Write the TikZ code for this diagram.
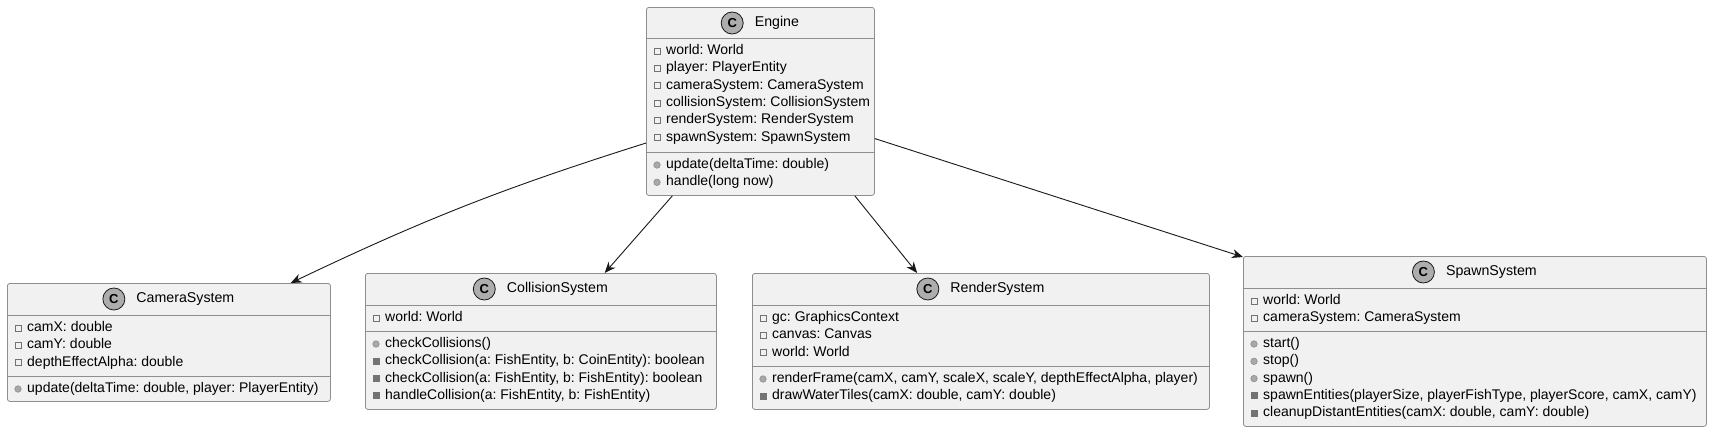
\documentclass[tikz,border=0pt]{standalone}
\usepackage{fontspec}
\setmainfont{Liberation Sans}
\usetikzlibrary{arrows.meta,positioning}
\frenchspacing
\definecolor{boxfill}{HTML}{F1F1F1}
\definecolor{boxline}{HTML}{8E8E8E}
\definecolor{iconfill}{HTML}{ADADAD}
\definecolor{dotfill}{HTML}{A8A8A8}
\definecolor{privfill}{HTML}{737373}
\definecolor{arrowline}{HTML}{181818}
\tikzset{
  classbox/.style={draw=boxline, fill=boxfill, rounded corners=2.5pt, line width=0.8pt,
                   anchor=north west, inner sep=0pt},
  sepline/.style={draw=boxline, line width=0.8pt},
  classicon/.style={circle, draw=arrowline, fill=iconfill, line width=0.8pt, minimum size=22pt,
                    inner sep=0pt, font=\fontsize{13}{13}\selectfont\bfseries},
  classtitle/.style={inner sep=0pt, font=\fontsize{14.2}{16}\selectfont},
  member/.style={anchor=west, inner sep=0pt, font=\fontsize{14}{16}\selectfont,
                 text height=10pt, text depth=3pt},
  privfield/.style={rectangle, draw=boxline!80!black, line width=0.7pt, minimum size=6pt, inner sep=0pt},
  pubmethod/.style={circle, draw=boxline, fill=dotfill, line width=0.6pt, minimum size=6.5pt, inner sep=0pt},
  privmethod/.style={rectangle, fill=privfill, minimum size=7pt, inner sep=0pt},
  assoc/.style={draw=arrowline, line width=0.9pt, -{Stealth[length=11pt,width=9pt,inset=3.5pt]}}
}
\begin{document}
\begin{tikzpicture}[x=1pt,y=-1pt]
\useasboundingbox (0,0) rectangle (1713,434);

% boxes
\node[classbox, minimum width=228pt, minimum height=188pt] (engine) at (646,7) {};
\node[classbox, minimum width=323pt, minimum height=118pt] (camera) at (7,283) {};
\node[classbox, minimum width=351pt, minimum height=136pt] (collision) at (365,273) {};
\node[classbox, minimum width=457pt, minimum height=136pt] (render) at (752,273) {};
\node[classbox, minimum width=463pt, minimum height=170pt] (spawn) at (1243,256) {};

% compartments
\draw[sepline] ([yshift=-31pt]engine.north west) -- ([yshift=-31pt]engine.north east)
               ([yshift=-145pt]engine.north west) -- ([yshift=-145pt]engine.north east);
\draw[sepline] ([yshift=-32pt]camera.north west) -- ([yshift=-32pt]camera.north east)
               ([yshift=-93pt]camera.north west) -- ([yshift=-93pt]camera.north east);
\draw[sepline] ([yshift=-32pt]collision.north west) -- ([yshift=-32pt]collision.north east)
               ([yshift=-58pt]collision.north west) -- ([yshift=-58pt]collision.north east);
\draw[sepline] ([yshift=-32pt]render.north west) -- ([yshift=-32pt]render.north east)
               ([yshift=-93pt]render.north west) -- ([yshift=-93pt]render.north east);
\draw[sepline] ([yshift=-32pt]spawn.north west) -- ([yshift=-32pt]spawn.north east)
               ([yshift=-75pt]spawn.north west) -- ([yshift=-75pt]spawn.north east);

% titles
\node[classtitle] (engine-title) at ([xshift=16.5pt,yshift=-16pt]engine.north) {Engine};
\node[classicon, left=11pt of engine-title] (engine-icon) {C};
\node[classtitle] (camera-title) at ([xshift=16.5pt,yshift=-16pt]camera.north) {CameraSystem};
\node[classicon, left=11pt of camera-title] (camera-icon) {C};
\node[classtitle] (collision-title) at ([xshift=16.5pt,yshift=-16pt]collision.north) {CollisionSystem};
\node[classicon, left=11pt of collision-title] (collision-icon) {C};
\node[classtitle] (render-title) at ([xshift=16.5pt,yshift=-16pt]render.north) {RenderSystem};
\node[classicon, left=11pt of render-title] (render-icon) {C};
\node[classtitle] (spawn-title) at ([xshift=16.5pt,yshift=-16pt]spawn.north) {SpawnSystem};
\node[classicon, left=11pt of spawn-title] (spawn-icon) {C};

% Engine members
\foreach \t [count=\i from 0] in {world: World, player: PlayerEntity, cameraSystem: CameraSystem,
    collisionSystem: CollisionSystem, renderSystem: RenderSystem, spawnSystem: SpawnSystem}{
  \node[privfield] (engine-fi\i) at ([xshift=11pt,yshift={-(44+17.3*\i)}]engine.north west) {};
  \node[member] (engine-f\i) at ([xshift=20pt,yshift={-(44+17.3*\i)}]engine.north west) {\t};
}
\foreach \v/\t [count=\i from 0] in {pubmethod/{update(deltaTime: double)}, pubmethod/{handle(long now)}}{
  \node[\v] (engine-mi\i) at ([xshift=11pt,yshift={-(158+17.3*\i)}]engine.north west) {};
  \node[member] (engine-m\i) at ([xshift=20pt,yshift={-(158+17.3*\i)}]engine.north west) {\t};
}

% CameraSystem members
\foreach \t [count=\i from 0] in {camX: double, camY: double, depthEffectAlpha: double}{
  \node[privfield] (camera-fi\i) at ([xshift=11pt,yshift={-(45+17.3*\i)}]camera.north west) {};
  \node[member] (camera-f\i) at ([xshift=20pt,yshift={-(45+17.3*\i)}]camera.north west) {\t};
}
\foreach \v/\t [count=\i from 0] in {pubmethod/{update(deltaTime: double, player: PlayerEntity)}}{
  \node[\v] (camera-mi\i) at ([xshift=11pt,yshift={-(106+17.3*\i)}]camera.north west) {};
  \node[member] (camera-m\i) at ([xshift=20pt,yshift={-(106+17.3*\i)}]camera.north west) {\t};
}

% CollisionSystem members
\foreach \t [count=\i from 0] in {world: World}{
  \node[privfield] (collision-fi\i) at ([xshift=11pt,yshift={-(45+17.3*\i)}]collision.north west) {};
  \node[member] (collision-f\i) at ([xshift=20pt,yshift={-(45+17.3*\i)}]collision.north west) {\t};
}
\foreach \v/\t [count=\i from 0] in {pubmethod/{checkCollisions()},
    privmethod/{checkCollision(a: FishEntity, b: CoinEntity): boolean},
    privmethod/{checkCollision(a: FishEntity, b: FishEntity): boolean},
    privmethod/{handleCollision(a: FishEntity, b: FishEntity)}}{
  \node[\v] (collision-mi\i) at ([xshift=11pt,yshift={-(71+17.3*\i)}]collision.north west) {};
  \node[member] (collision-m\i) at ([xshift=20pt,yshift={-(71+17.3*\i)}]collision.north west) {\t};
}

% RenderSystem members
\foreach \t [count=\i from 0] in {gc: GraphicsContext, canvas: Canvas, world: World}{
  \node[privfield] (render-fi\i) at ([xshift=11pt,yshift={-(45+17.3*\i)}]render.north west) {};
  \node[member] (render-f\i) at ([xshift=20pt,yshift={-(45+17.3*\i)}]render.north west) {\t};
}
\foreach \v/\t [count=\i from 0] in {pubmethod/{renderFrame(camX, camY, scaleX, scaleY, depthEffectAlpha, player)},
    privmethod/{drawWaterTiles(camX: double, camY: double)}}{
  \node[\v] (render-mi\i) at ([xshift=11pt,yshift={-(106+17.3*\i)}]render.north west) {};
  \node[member] (render-m\i) at ([xshift=20pt,yshift={-(106+17.3*\i)}]render.north west) {\t};
}

% SpawnSystem members
\foreach \t [count=\i from 0] in {world: World, cameraSystem: CameraSystem}{
  \node[privfield] (spawn-fi\i) at ([xshift=11pt,yshift={-(45+17.3*\i)}]spawn.north west) {};
  \node[member] (spawn-f\i) at ([xshift=20pt,yshift={-(45+17.3*\i)}]spawn.north west) {\t};
}
\foreach \v/\t [count=\i from 0] in {pubmethod/{start()}, pubmethod/{stop()}, pubmethod/{spawn()},
    privmethod/{spawnEntities(playerSize, playerFishType, playerScore, camX, camY)},
    privmethod/{cleanupDistantEntities(camX: double, camY: double)}}{
  \node[\v] (spawn-mi\i) at ([xshift=11pt,yshift={-(88+17.3*\i)}]spawn.north west) {};
  \node[member] (spawn-m\i) at ([xshift=20pt,yshift={-(88+17.3*\i)}]spawn.north west) {\t};
}

% associations
\draw[assoc] (engine.200.2) to[bend right=4] (camera.26.5);
\draw[assoc] (engine.227.5) -- (collision.47.4);
\draw[assoc] (engine.-45.9) -- (render.133);
\draw[assoc] (engine.-18.9) -- (spawn.160.9);
\end{tikzpicture}
\end{document}
